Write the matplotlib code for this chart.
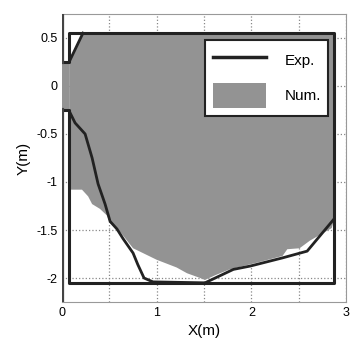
import numpy as np
import matplotlib.pyplot as plt
from matplotlib.patches import Patch
from matplotlib.lines import Line2D

plt.rcParams['font.family'] = ['Liberation Sans', 'DejaVu Sans']

# experimental free-surface profile (lower part)
exp_x = [0.074, 0.137, 0.243, 0.317, 0.38, 0.454, 0.507, 0.58, 0.644, 0.75,
         0.80, 0.866, 0.96, 1.51, 1.81, 1.99, 2.33, 2.59, 2.87]
exp_y = [-0.26, -0.385, -0.5, -0.75, -1.02, -1.23, -1.41, -1.49, -1.59, -1.74,
         -1.86, -2.0, -2.04, -2.05, -1.91, -1.875, -1.79, -1.72, -1.39]
# experimental profile (upper part)
exp_top_x = [0.074, 0.22]
exp_top_y = [0.25, 0.55]

# numerical wetted region: lower edge of the grey zone, left wall to right wall
num_x = [0.074, 0.21, 0.275, 0.317, 0.40, 0.475, 0.507, 0.59, 0.75, 1.0, 1.21,
         1.32, 1.46, 1.51, 1.62, 1.77, 2.06, 2.33, 2.38, 2.51, 2.62, 2.85, 2.87]
num_y = [-1.08, -1.08, -1.15, -1.23, -1.28, -1.35, -1.43, -1.49, -1.69, -1.81,
         -1.89, -1.95, -2.0, -2.02, -1.97, -1.91, -1.84, -1.77, -1.70, -1.69,
         -1.61, -1.48, -1.41]

# tank outline
tank_x0, tank_x1 = 0.074, 2.87
tank_y0, tank_y1 = -2.05, 0.55
gap_lo, gap_hi = -0.25, 0.25

fig = plt.figure(figsize=(3.53, 3.39), dpi=100)
ax = fig.add_axes([0.176, 0.109, 0.804, 0.85])
ax.set_xlim(0, 3)
ax.set_ylim(-2.25, 0.75)

grey = '#939393'
# grey region: tank interior above the lower edge, plus the inlet gap
px = [tank_x0, tank_x0] + num_x + [tank_x1, tank_x0]
py = [tank_y1, num_y[0]] + num_y + [tank_y1, tank_y1]
ax.fill(px, py, color=grey, lw=0, zorder=1)
ax.fill([0, tank_x0, tank_x0, 0], [gap_lo, gap_lo, gap_hi, gap_hi], color=grey, lw=0, zorder=1)
# white corner above the upper experimental line
ax.fill([tank_x0, tank_x0, exp_top_x[1]], [exp_top_y[0], tank_y1, tank_y1], color='white', lw=0, zorder=1)

ax.set_xticks([0, 1, 2, 3])
ax.set_yticks([0.5, 0, -0.5, -1, -1.5, -2])
ax.set_yticklabels(['0.5', '0', '-0.5', '-1', '-1.5', '-2'])
ax.set_xticks(np.arange(0, 3.01, 0.5), minor=True)
ax.grid(True, which='both', color='#888888', linestyle=':', lw=0.9)
ax.tick_params(length=0, labelsize=9, which='both')
ax.set_axisbelow(True)

for s in ['top', 'right', 'bottom']:
    ax.spines[s].set_color('#999999')
    ax.spines[s].set_linewidth(0.8)
ax.spines['left'].set_visible(False)

wall = dict(color='#222222', lw=2.2, zorder=3, solid_capstyle='butt')
# tank walls with inlet gap on the left
ax.plot([0, 0, tank_x0, tank_x0, tank_x1, tank_x1, tank_x0, tank_x0, 0, 0],
        [0.75, gap_hi, gap_hi, tank_y1, tank_y1, tank_y0, tank_y0, gap_lo, gap_lo, -2.25], **wall)
ax.plot([0, 0], [0.75, gap_hi], color='#444444', lw=3, zorder=3)
ax.plot([0, 0], [gap_lo, -2.25], color='#444444', lw=3, zorder=3)

ax.plot(exp_x, exp_y, color='#222222', lw=2, zorder=4)
ax.plot(exp_top_x, exp_top_y, color='#222222', lw=2, zorder=4)

ax.set_xlabel('X(m)', fontsize=11)
ax.set_ylabel('Y(m)', fontsize=11)

handles = [Line2D([], [], color='#222222', lw=2.5),
           Patch(facecolor=grey, edgecolor='none')]
leg = ax.legend(handles, ['Exp.', 'Num.'], loc='upper right', bbox_to_anchor=(0.965, 0.935),
                fontsize=11, frameon=True, fancybox=False, framealpha=1,
                edgecolor='#222222', handlelength=3.5, handleheight=2.2,
                labelspacing=0.6, borderpad=0.5, handletextpad=1.2)
leg.get_frame().set_linewidth(1.5)
leg.set_zorder(5)

fig.savefig('out.png', dpi=100)
